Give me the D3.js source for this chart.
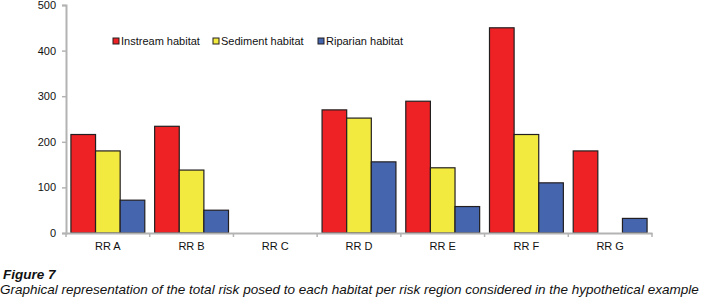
<!DOCTYPE html>
<html>
<head>
<meta charset="utf-8">
<script src="https://cdn.jsdelivr.net/npm/d3@7"></script>
<style>
  body { margin: 0; background: #fff; }
  svg { display: block; font-family: "Liberation Sans", Arial, sans-serif; }
</style>
</head>
<body>
<svg id="chart" width="703" height="298"></svg>
<script>
// Dados do gráfico
const regions = ["RR A", "RR B", "RR C", "RR D", "RR E", "RR F", "RR G"];
const seriesNames = ["Instream habitat", "Sediment habitat", "Riparian habitat"];
const instream = [216, 234, 0, 270, 289, 450, 180];
const sediment = [180, 138, 0, 252, 143, 216, 0];
const riparian = [72, 50, 0, 156, 58, 110, 32];
const yTicks = [0, 100, 200, 300, 400, 500];
const colors = ["#ee2225", "#f2ea3f", "#4565ae"];

const svg = d3.select("#chart");
const margin = { top: 5, left: 66, right: 51, bottom: 65 };
const width = 703, height = 298;
const innerW = width - margin.left - margin.right;
const innerH = height - margin.top - margin.bottom;

const g = svg.append("g").attr("transform", `translate(${margin.left},${margin.top})`);

const x = d3.scaleBand().domain(regions).range([0, innerW]).paddingInner(0).paddingOuter(0);
const x1 = d3.scaleBand().domain(seriesNames).range([0, x.bandwidth()]).paddingOuter(0.2).paddingInner(0);
const y = d3.scaleLinear().domain([0, 500]).range([innerH, 0]);

// Barras
const values = [instream, sediment, riparian];
regions.forEach((r, i) => {
  seriesNames.forEach((s, j) => {
    const v = values[j][i];
    if (v <= 0) return;
    g.append("rect")
      .attr("x", x(r) + x1(s))
      .attr("y", y(v))
      .attr("width", x1.bandwidth())
      .attr("height", y(0) - y(v))
      .attr("fill", colors[j])
      .attr("stroke", "#231f20")
      .attr("stroke-width", 1.2);
  });
});

// Eixo Y
const yAxis = g.append("g").call(d3.axisLeft(y).tickValues(yTicks).tickSize(4).tickPadding(6));
yAxis.select(".domain").attr("stroke", "#b3b3b3").attr("stroke-width", 2);
yAxis.selectAll(".tick line").attr("stroke", "#b3b3b3").attr("stroke-width", 1.5);
yAxis.selectAll("text").attr("font-size", 11).attr("fill", "#111")
  .attr("font-family", "Liberation Sans, Arial, sans-serif");

// Eixo X
const xAxis = g.append("g").attr("transform", `translate(0,${innerH})`)
  .call(d3.axisBottom(x).tickSize(0).tickPadding(9));
xAxis.select(".domain").attr("stroke", "#b3b3b3").attr("stroke-width", 2);
xAxis.selectAll("text").attr("font-size", 11).attr("fill", "#111")
  .attr("font-family", "Liberation Sans, Arial, sans-serif");
// marcas entre categorias
g.append("g").selectAll("line")
  .data(regions.concat(["end"]))
  .join("line")
  .attr("x1", (d, i) => i * x.bandwidth())
  .attr("x2", (d, i) => i * x.bandwidth())
  .attr("y1", innerH)
  .attr("y2", innerH + 4)
  .attr("stroke", "#b3b3b3")
  .attr("stroke-width", 1.5);

// Legenda
const legendX = [113, 213, 318];
const legend = svg.append("g");
seriesNames.forEach((s, j) => {
  legend.append("rect")
    .attr("x", legendX[j]).attr("y", 38)
    .attr("width", 6).attr("height", 6)
    .attr("fill", colors[j]).attr("stroke", "#231f20").attr("stroke-width", 1);
  legend.append("text")
    .attr("x", legendX[j] + 8).attr("y", 45)
    .attr("font-size", 11).attr("fill", "#111")
    .text(s);
});

// Legenda da figura
svg.append("text")
  .attr("x", 3).attr("y", 279)
  .attr("font-size", 13.5).attr("font-weight", "bold").attr("font-style", "italic")
  .attr("fill", "#111")
  .text("Figure 7");
svg.append("text")
  .attr("x", 0).attr("y", 294)
  .attr("font-size", 13.5).attr("font-style", "italic")
  .attr("fill", "#111")
  .text("Graphical representation of the total risk posed to each habitat per risk region considered in the hypothetical example");
</script>
</body>
</html>
